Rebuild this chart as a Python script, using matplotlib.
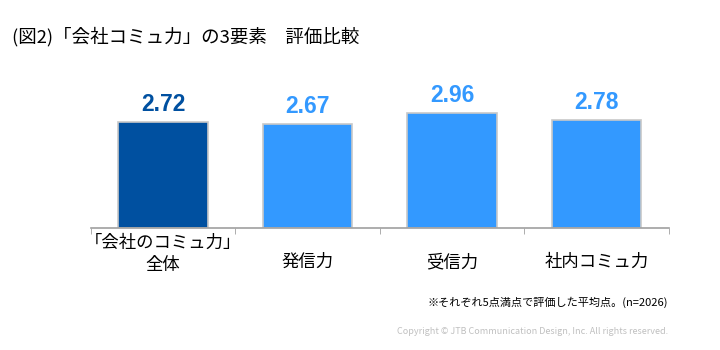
import matplotlib.pyplot as plt
import matplotlib.transforms as mtransforms

plt.rcParams['font.family'] = ['Noto Sans CJK JP', 'DejaVu Sans']

categories = ['「会社のコミュ力」\n全体', '発信力', '受信力', '社内コミュ力']
scores = [2.72, 2.67, 2.96, 2.78]
bar_colors = ['#0050A0', '#3399FF', '#3399FF', '#3399FF']

fig = plt.figure(figsize=(7.2, 3.5), dpi=100)
ax = fig.add_axes([0.126, 0.3486, 0.803, 0.379])

x = list(range(len(categories)))
ax.bar(x, scores, width=0.62, color=bar_colors, edgecolor='#C8C8C8', linewidth=1.2, zorder=2)

for xi, v, c in zip(x, scores, bar_colors):
    ax.annotate(f'{v:.2f}', (xi, v), xytext=(0, 4), textcoords='offset points',
                ha='center', va='bottom', fontsize=16.5, fontweight='bold', color=c,
                family=['Liberation Sans', 'DejaVu Sans'])

ax.set_xlim(-0.5, len(categories) - 0.5)
ax.set_ylim(0, 3.4)
ax.set_yticks([])
ax.set_xticks([])
ax.set_xticks([i - 0.5 for i in range(len(categories) + 1)], minor=True)
ax.tick_params(axis='x', which='minor', length=4, color='#A0A0A0', direction='out')
for s in ['top', 'right', 'left']:
    ax.spines[s].set_visible(False)
ax.spines['bottom'].set_color('#A0A0A0')
ax.spines['bottom'].set_linewidth(1.2)

trans = mtransforms.blended_transform_factory(ax.transData, ax.transAxes)
for xi, lab in zip(x, categories):
    ypos = -0.196 if '\n' in lab else -0.256
    ax.text(xi, ypos, lab, transform=trans, ha='center', va='center',
            fontsize=12.5, color='#000000', linespacing=1.25)

fig.text(12 / 720, 1 - 37 / 350, '(図2)「会社コミュ力」の3要素\u3000評価比較',
         ha='left', va='center', fontsize=13.3, color='#000000')
fig.text(668 / 720, 1 - 302 / 350, '※それぞれ5点満点で評価した平均点。(n=2026)',
         ha='right', va='center', fontsize=8, color='#000000')
fig.text(668 / 720, 1 - 332 / 350, 'Copyright © JTB Communication Design, Inc. All rights reserved.',
         ha='right', va='center', fontsize=6.5, color='#C0C0C0')

fig.savefig('out.png', dpi=100)
